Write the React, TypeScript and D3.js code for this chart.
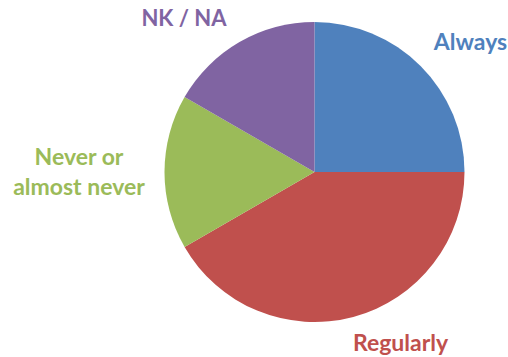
import React from "react";
import * as d3 from "d3";

const categories = ["Always", "Regularly", "Never or almost never", "NK / NA"];
const values = [3, 5, 2, 2];
const colors = ["#4F81BD", "#C0504D", "#9BBB59", "#8064A2"];
const labelLines = [["Always"], ["Regularly"], ["Never or", "almost never"], ["NK / NA"]];

export default function App() {
  const width = 508;
  const height = 357;
  const cx = 314.5;
  const cy = 172;
  const r = 150;
  const pie = d3.pie<number>().sort(null).value((d) => d)(values);
  const arc = d3.arc<d3.PieArcDatum<number>>().innerRadius(0).outerRadius(r);
  const labelPos: [number, number, number][] = [
    [470.5, 50, 23],
    [400.5, 351, 23],
    [79, 165, 23],
    [184, 26, 22],
  ];
  return (
    <svg width={width} height={height} style={{ position: "absolute", left: 0, top: 0 }}>
      <rect width={width} height={height} fill="#fff" />
      <g transform={`translate(${cx},${cy})`}>
        {pie.map((p, i) => (
          <path key={categories[i]} d={arc(p) || ""} fill={colors[i]} />
        ))}
      </g>
      {labelLines.map((lines, i) => (
        <text
          key={categories[i]}
          x={labelPos[i][0]}
          y={labelPos[i][1]}
          textAnchor="middle"
          fill={colors[i]}
          fontFamily="Lato, 'Open Sans', sans-serif"
          fontWeight="bold"
          fontSize={labelPos[i][2]}
        >
          {lines.map((l, j) => (
            <tspan key={j} x={labelPos[i][0]} dy={j === 0 ? 0 : 30}>
              {l}
            </tspan>
          ))}
        </text>
      ))}
    </svg>
  );
}
